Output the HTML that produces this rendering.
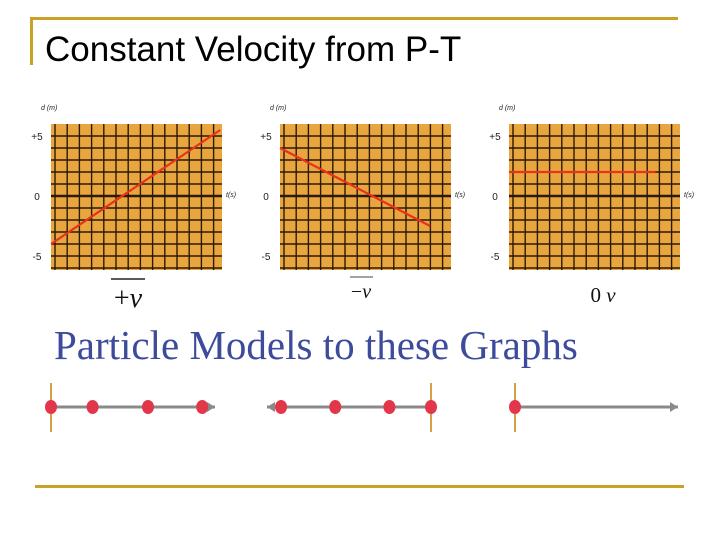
<!DOCTYPE html>
<html><head><meta charset="utf-8"><style>
body{margin:0;background:#fff;width:720px;height:540px;overflow:hidden;position:relative;font-family:"Liberation Sans",sans-serif}
.abs{position:absolute}
</style></head><body>
<div class="abs" style="left:30px;top:17px;width:648px;height:3px;background:#c9a326"></div>
<div class="abs" style="left:30px;top:17px;width:3px;height:48px;background:#c9a326"></div>
<div class="abs" style="left:35px;top:485px;width:649px;height:3px;background:#c9a326"></div>
<div class="abs" style="left:45px;top:30px;font-size:35px;color:#000;white-space:nowrap">Constant Velocity from P-T</div>
<svg class="abs" style="left:0;top:0" width="720" height="540" id="chart"></svg>
<div class="abs" style="left:54px;top:321px;font-family:'Liberation Serif',serif;font-size:41px;color:#3d4b9c;white-space:nowrap">Particle Models to these Graphs</div>
<script>
const graphX0=[51,280,509];
const startT=[0,0,0];
const startD=[-4,4,2];
const endT=[14.1,12.5,12.2];
const endD=[5.5,-2.5,2];
const yTicks=["+5","0","-5"];
const yTickVals=[5,0,-5];
const velLabels=["+","\u2212","0 "];
const dots=[[0,3.3,7.7,12],[0,-3.3,-7.6,-11.9],[0]];
const NS='http://www.w3.org/2000/svg';
const svg=document.getElementById('chart');
function mk(t,a){const e=document.createElementNS(NS,t);for(const k in a)e.setAttribute(k,a[k]);svg.appendChild(e);return e;}
const U=12, Y0=196, W=171, TOP=124, BOT=270;
const yS=d=>Y0-d*U;
graphX0.forEach((x0,g)=>{
  const xS=t=>x0+t*U;
  let r=mk('rect',{x:x0,y:TOP,width:W,height:BOT-TOP,fill:'#eaa63e'});
  
  
  for(let x=x0+4;x<x0+W;x+=12.2){let l=mk('line',{x1:x,x2:x,y1:TOP,y2:BOT,stroke:'#2a1a08','stroke-width':1.4});
    }
  for(let k=-6;k<=5;k++){let y=yS(k);if(y<TOP+3||y>BOT-2)continue;let l=mk('line',{x1:x0,x2:x0+W,y1:y,y2:y,stroke:'#2a1a08','stroke-width':k==0?2.4:1.4});
    }
  yTicks.forEach((s,i)=>{let t=mk('text',{x:x0-14,y:yS(yTickVals[i])+4,'font-size':10,'text-anchor':'middle',fill:'#222'});t.textContent=s;
    });
  let yl=mk('text',{x:x0-10,y:110,'font-size':7,'font-style':'italic',fill:'#222'});yl.textContent='d (m)';
  
  let xl=mk('text',{x:x0+W+4,y:197,'font-size':7,'font-style':'italic',fill:'#222'});xl.textContent='t(s)';
  
  let ln=mk('line',{x1:xS(startT[g]),y1:yS(startD[g]),x2:xS(endT[g]),y2:yS(endD[g]),stroke:'#e8321e','stroke-width':2.2});
  
});
const vx=[128,361,603],vy=[307,298,302],vs=[28,20,21];
velLabels.forEach((s,i)=>{let t=mk('text',{x:vx[i],y:vy[i],'font-size':vs[i],'font-family':'Liberation Serif,serif','text-anchor':'middle',fill:'#111'});t.textContent=s;
  let v=document.createElementNS(NS,'tspan');v.setAttribute('font-style','italic');v.textContent='v';t.appendChild(v);
  });
let b1=mk('line',{x1:111,x2:145,y1:279,y2:279,stroke:'#222','stroke-width':1.5});
let b2=mk('line',{x1:350,x2:373,y1:277,y2:277,stroke:'#444','stroke-width':1});
const RY=407, PS=12.6;
const origin=[51,431,515], lineEnd=[[51,215],[267,431],[515,678]];
lineEnd.forEach((e,i)=>{
  let l=mk('line',{x1:e[0],x2:e[1],y1:RY,y2:RY,stroke:'#8a8a8a','stroke-width':3});
  
  const tip=i==1?e[0]:e[1],dir=i==1?1:-1;
  let a=mk('polygon',{points:`${tip},${RY} ${tip+dir*8},${RY-5} ${tip+dir*8},${RY+5}`,fill:'#8a8a8a'});
  
  let o=mk('line',{x1:origin[i],x2:origin[i],y1:383,y2:432,stroke:'#d4a045','stroke-width':2});
  
  dots[i].forEach(t=>{let c=mk('ellipse',{cx:origin[i]+t*PS,cy:RY,rx:6,ry:7,fill:'#e2364a'});
    });
});
</script>
</body></html>
